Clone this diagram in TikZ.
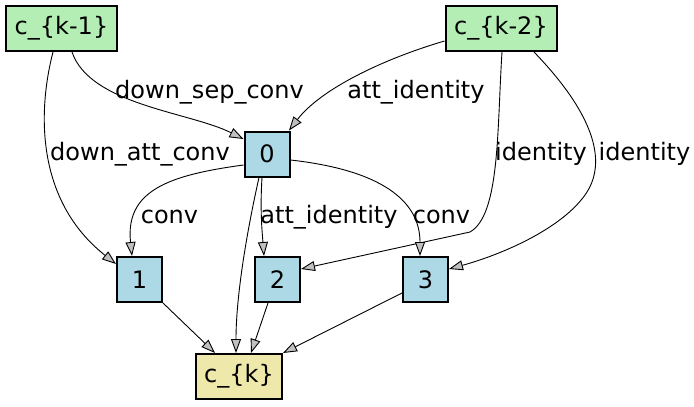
\documentclass[tikz,border=0pt]{standalone}
\usepackage{fontspec}
\setmainfont{DejaVu Sans}
\usetikzlibrary{arrows.meta}
\definecolor{cellgreen}{HTML}{B4EEB4}
\definecolor{cellblue}{HTML}{ADD8E6}
\definecolor{cellyellow}{HTML}{EEE8AA}
\definecolor{tipgray}{HTML}{C0C0C0}
\begin{document}
\begin{tikzpicture}[x=1pt,y=-1pt,
  font=\fontsize{24}{28}\selectfont,
  cellbox/.style={draw=black, line width=2pt, inner sep=0pt, minimum height=45pt},
  inbox/.style={cellbox, fill=cellgreen, minimum width=111pt},
  opbox/.style={cellbox, fill=cellblue, minimum width=45pt},
  outbox/.style={cellbox, fill=cellyellow, minimum width=86pt},
  edge/.style={draw=black, line width=0.9pt,
    -{Triangle[length=14pt,width=10pt,fill=tipgray]}},
  elabel/.style={anchor=base, inner sep=0pt}]
\useasboundingbox (0,0) rectangle (694,407);

% cells
\node[inbox]  (km1) at (61.5,28.5)  {c\_\{k-1\}};
\node[inbox]  (km2) at (501,28.5)   {c\_\{k-2\}};
\node[opbox]  (n0)  at (267,154)    {0};
\node[opbox]  (n1)  at (139.5,279.5) {1};
\node[opbox]  (n2)  at (277.5,279.5) {2};
\node[opbox]  (n3)  at (425.5,279.5) {3};
\node[outbox] (ck)  at (239,376.5)  {c\_\{k\}};

% edge labels
\node[elabel] (l1) at (209.5,98) {down\_sep\_conv};
\node[elabel] (l2) at (416,98)   {att\_identity};
\node[elabel] (l3) at (140,160)  {down\_att\_conv};
\node[elabel] (l4) at (541,160)  {identity};
\node[elabel] (l5) at (644.5,160) {identity};
\node[elabel] (l6) at (169.5,223) {conv};
\node[elabel] (l7) at (329,223)  {att\_identity};
\node[elabel] (l8) at (441.5,223) {conv};

% edges from c_{k-1}
\draw[edge] ([xshift=10.5pt]km1.south) .. controls (90,105) and (190,112) .. ([yshift=15pt]n0.west);
\draw[edge] ([xshift=-8.5pt]km1.south) .. controls (38,110) and (35,200) .. ([yshift=15.5pt]n1.west);

% edges from c_{k-2}
\draw[edge] ([yshift=-12.5pt]km2.west) .. controls (380,60) and (320,90) .. ([xshift=22pt]n0.north);
\draw[edge] ([xshift=1pt]km2.south) .. controls (497,130) and (500,215) .. (470,232) -- ([yshift=10.5pt]n2.east);
\draw[edge] ([xshift=33pt]km2.south) .. controls (590,110) and (610,160) .. (585,195)
  .. controls (560,230) and (500,255) .. ([yshift=10.5pt]n3.east);

% edges from node 0
\draw[edge] ([yshift=-11pt]n0.west) .. controls (170,175) and (125,190) .. ([xshift=-7.5pt]n1.north);
\draw[edge] ([xshift=-5pt]n0.south) .. controls (260,210) and (262,230) .. ([xshift=-13.5pt]n2.north);
\draw[edge] ([yshift=-6pt]n0.east) .. controls (380,170) and (420,200) .. ([xshift=-5.5pt]n3.north);
\draw[edge] ([xshift=-8pt]n0.south) .. controls (245,240) and (236,300) .. ([xshift=-3pt]ck.north);

% edges into c_{k}
\draw[edge] (n1.south east) -- ([xshift=-24pt]ck.north);
\draw[edge] ([xshift=-9.5pt]n2.south) -- ([xshift=12pt]ck.north);
\draw[edge] ([yshift=-13.5pt]n3.west) -- (ck.north east);
\end{tikzpicture}
\end{document}
